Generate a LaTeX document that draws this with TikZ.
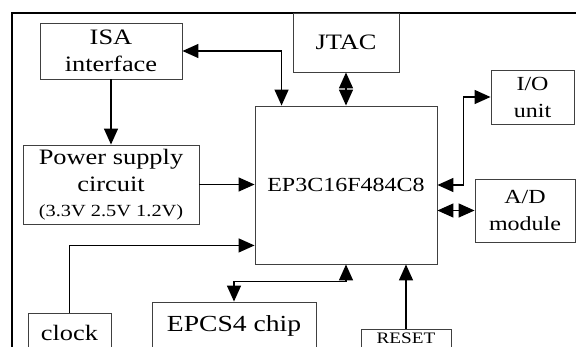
\documentclass[tikz,border=0pt]{standalone}
\usepackage{fontspec}
\setmainfont[FakeStretch=1.2]{Liberation Serif}
\usetikzlibrary{arrows.meta,calc}
\begin{document}
\begin{tikzpicture}[x=1pt,y=-1pt,
  box/.style={draw=black!75,line width=0.9pt,rectangle,inner sep=0pt,align=center,fill=white},
  big/.style={font=\fontsize{22}{27}\selectfont},
  mid/.style={font=\fontsize{20}{27}\selectfont},
  conn/.style={line width=1.4pt,-{Triangle[length=16pt,width=14pt]}},
  dconn/.style={line width=1.4pt,{Triangle[length=16pt,width=14pt]}-{Triangle[length=16pt,width=14pt]}}]
\useasboundingbox (0,0) rectangle (576,347);
\clip (0,0) rectangle (576,347);
\fill[white] (0,0) rectangle (576,347);
% outer frame
\draw[line width=1.5pt] (12,370) -- (12,13) -- (600,13);
% boxes
\node[box,big,minimum width=142pt,minimum height=56pt] (isa) at (111,51) {ISA\\interface};
\node[box,big,minimum width=106pt,minimum height=59pt] (jtac) at (346,42.5) {JTAC};
\node[box,mid,minimum width=182pt,minimum height=158pt] (main) at (346,185) {EP3C16F484C8};
\node[box,mid,minimum width=83pt,minimum height=54pt] (io) at (532.5,97) {I/O\\unit};
\node[box,mid,minimum width=100pt,minimum height=63pt] (ad) at (525,210.5) {A/D\\module};
\node[box,big,minimum width=176pt,minimum height=79pt] (power) at (111,184.5)
  {Power supply\\circuit\\[-2pt]\fontsize{17}{20}\selectfont (3.3V 2.5V 1.2V)};
\node[box,big,minimum width=83pt,minimum height=40pt] (clock) at (69.5,333) {clock};
\node[box,font=\fontsize{23}{27}\selectfont,minimum width=164pt,minimum height=48pt] (epcs) at (234,326) {EPCS4 chip};
\node[box,font=\fontsize{16}{20}\selectfont,minimum width=90pt,minimum height=19pt] (reset) at (406,338.5) {RESET};
% connectors
\draw[dconn] (isa.east) -| ($(main.north west)+(27,0)$);
\draw[dconn] (jtac.south) -- (main.north);
\draw[conn] (isa.south) -- (power.north);
\draw[conn] (power.east) -- (power.east -| main.west);
\draw[conn] (clock.north) |- ($(main.south west)+(0,-19)$);
\draw[dconn] (main.south) -- ++(0,17) -| (epcs.north);
\draw[conn] (reset.north) -- (reset.north |- main.south);
\draw[dconn] (main.east) -- ++(26,0) |- (io.west);
\draw[dconn] (ad.west) -- (ad.west -| main.east);
\end{tikzpicture}
\end{document}
